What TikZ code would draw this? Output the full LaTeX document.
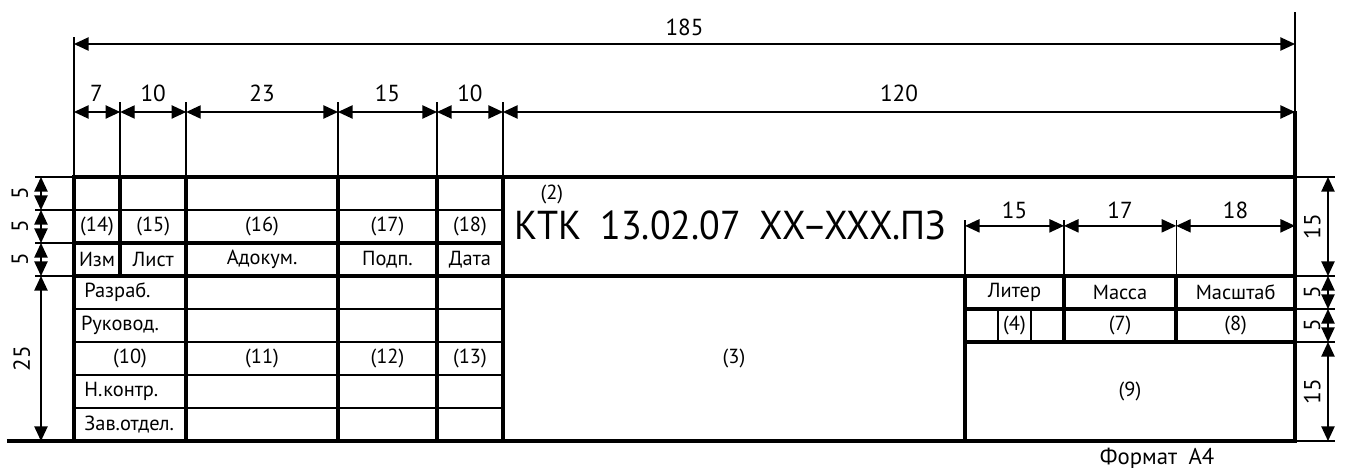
\documentclass[tikz,border=0pt]{standalone}
\usepackage{fontspec}
\setmainfont{PT Sans}
\usetikzlibrary{arrows.meta}
\tikzset{
  thinln/.style={line width=0.6pt},
  thickln/.style={line width=1.5pt},
  dimline/.style={line width=0.6pt,{Triangle[length=2.2mm,width=2mm]}-{Triangle[length=2.2mm,width=2mm]}},
  cell/.style={inner sep=0pt,font=\fontsize{8.8pt}{9.5pt}\selectfont},
  celll/.style={cell,anchor=west},
  dimlbl/.style={inner sep=0pt,font=\fontsize{10pt}{11pt}\selectfont},
}
\begin{document}
\begin{tikzpicture}[x=1mm,y=1mm]
\useasboundingbox (-11.21,-4.09) rectangle (192.73,66.82);
% ---------- extension lines (thin) ----------
\draw[thinln] (0,40) -- (0,61.2);
\draw[thinln] (185,50) -- (185,65);
\foreach \x in {7,17,40,55,65} \draw[thinln] (\x,40) -- (\x,51.4);
\foreach \x in {135,150,167} \draw[thinln] (\x,25) -- (\x,33.5);
\foreach \y in {40,35,30,25} \draw[thinln] (-5.9,\y) -- (0,\y);
\foreach \y in {40,25,20,15,0} \draw[thinln] (185,\y) -- (191.1,\y);
% ---------- thin grid lines ----------
\draw[thinln] (0,35) -- (65,35);
\foreach \y in {20,15,10,5} \draw[thinln] (0,\y) -- (65,\y);
\draw[thinln] (140,15) -- (140,20);
\draw[thinln] (145,15) -- (145,20);
% ---------- thick lines ----------
\draw[thickln] (0,40) rectangle (185,0);
\draw[thickln] (-10.15,0) -- (0,0);
\draw[thickln] (185,40) -- (185,50);
\draw[thickln] (7,25) -- (7,40);
\foreach \x in {17,40,55,65} \draw[thickln] (\x,0) -- (\x,40);
\draw[thickln] (0,30) -- (65,30);
\draw[thickln] (0,25) -- (185,25);
\draw[thickln] (135,0) -- (135,25);
\draw[thickln] (150,15) -- (150,25);
\draw[thickln] (167,15) -- (167,25);
\draw[thickln] (135,20) -- (185,20);
\draw[thickln] (135,15) -- (185,15);
% ---------- dimensions ----------
\draw[dimline] (0,60.15) -- (185,60.15);
\node[dimlbl] (d185) at (92.5,62.6) {185};
\draw[dimline] (0,49.85) -- (7,49.85);
\draw[dimline] (7,49.85) -- (17,49.85);
\draw[dimline] (17,49.85) -- (40,49.85);
\draw[dimline] (40,49.85) -- (55,49.85);
\draw[dimline] (55,49.85) -- (65,49.85);
\draw[dimline] (65,49.85) -- (185,49.85);
\node[dimlbl] (d7) at (3.4,52.6) {7};
\node[dimlbl] (d10a) at (12,52.6) {10};
\node[dimlbl] (d23) at (28.5,52.6) {23};
\node[dimlbl] (d15a) at (47.5,52.6) {15};
\node[dimlbl] (d10b) at (60,52.6) {10};
\node[dimlbl] (d120) at (125,52.6) {120};
\draw[dimline] (135,32.6) -- (150,32.6);
\draw[dimline] (150,32.6) -- (167,32.6);
\draw[dimline] (167,32.6) -- (185,32.6);
\node[dimlbl] (d15b) at (142.5,35) {15};
\node[dimlbl] (d17) at (158.5,35) {17};
\node[dimlbl] (d18) at (176,35) {18};
% left vertical
\draw[dimline] (-5,40) -- (-5,35);
\draw[dimline] (-5,35) -- (-5,30);
\draw[dimline] (-5,30) -- (-5,25);
\draw[dimline] (-5,25) -- (-5,0);
\node[dimlbl,rotate=90] (l5a) at (-8.2,37.5) {5};
\node[dimlbl,rotate=90] (l5b) at (-8.2,32.5) {5};
\node[dimlbl,rotate=90] (l5c) at (-8.2,27.5) {5};
\node[dimlbl,rotate=90] (l25) at (-7.9,12.5) {25};
% right vertical
\draw[dimline] (190,40) -- (190,25);
\draw[dimline] (190,25) -- (190,20);
\draw[dimline] (190,20) -- (190,15);
\draw[dimline] (190,15) -- (190,0);
\node[dimlbl,rotate=90] (r15a) at (187.6,32.5) {15};
\node[dimlbl,rotate=90] (r5a) at (187.6,22.5) {5};
\node[dimlbl,rotate=90] (r5b) at (187.6,17.5) {5};
\node[dimlbl,rotate=90] (r15b) at (187.6,7.5) {15};
% ---------- cell texts ----------
\node[cell] (c14) at (3.5,32.5) {(14)};
\node[cell] (c15) at (12,32.5) {(15)};
\node[cell] (c16) at (28.5,32.5) {(16)};
\node[cell] (c17) at (47.5,32.5) {(17)};
\node[cell] (c18) at (60,32.5) {(18)};
\node[cell] (izm) at (3.5,27.5) {Изм};
\node[cell] (list) at (12,27.5) {Лист};
\node[cell] (ndok) at (28.5,27.5) {Адокум.};
\node[cell] (podp) at (47.5,27.5) {Подп.};
\node[cell] (data) at (60,27.5) {Дата};
\node[celll] (razr) at (1.5,22.5) {Разраб.};
\node[celll] (ruk) at (1,17.5) {Руковод.};
\node[cell] (c10) at (8.5,12.5) {(10)};
\node[cell] (c11) at (28.5,12.5) {(11)};
\node[cell] (c12) at (47.5,12.5) {(12)};
\node[cell] (c13) at (60,12.5) {(13)};
\node[celll] (nkontr) at (1.5,7.5) {Н.контр.};
\node[celll] (zav) at (1.5,2.5) {Зав.отдел.};
\node[cell] (c2) at (72.4,37.3) {(2)};
\node[inner sep=0pt,anchor=west,font=\fontsize{17.4pt}{19pt}\selectfont] (oboz) at (66.7,32.7) {\scalebox{0.94}[1]{КТК\enspace 13.02.07\enspace XX–XXX.ПЗ}};
\node[cell] (c3) at (100,12.5) {(3)};
\node[cell] (liter) at (142.5,22.5) {Литер};
\node[cell] (massa) at (158.5,22.5) {Масса};
\node[cell] (masht) at (176,22.5) {Масштаб};
\node[cell] (c4) at (142.5,17.5) {(4)};
\node[cell] (c7) at (158.5,17.5) {(7)};
\node[cell] (c8) at (176,17.5) {(8)};
\node[cell] (c9) at (160,7.5) {(9)};
\node[cell,font=\fontsize{9.8pt}{11pt}\selectfont] (format) at (164.1,-2.6) {Формат\enspace А4};
\end{tikzpicture}
\end{document}
